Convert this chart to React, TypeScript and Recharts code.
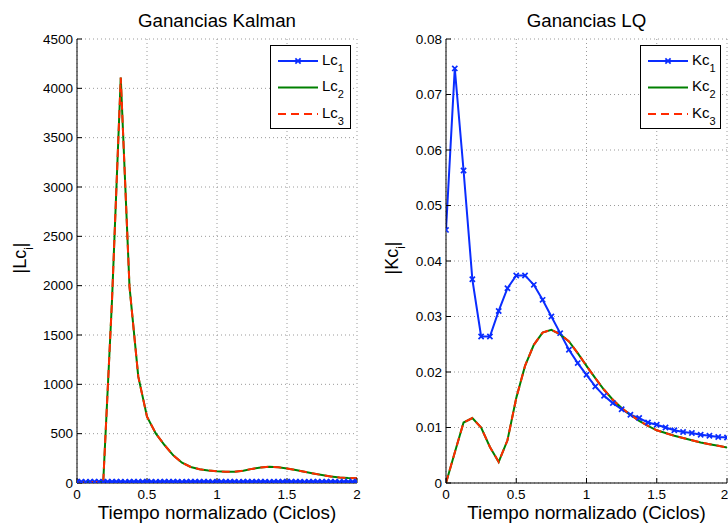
import { LineChart, Line, XAxis, YAxis, CartesianGrid, Legend, Label } from "recharts";

// shared x ticks (normalized time, cycles)
const timeTicks = [0, 0.5, 1, 1.5, 2];
const lcTicks = [0, 500, 1000, 1500, 2000, 2500, 3000, 3500, 4000, 4500];
const kcTicks = [0, 0.01, 0.02, 0.03, 0.04, 0.05, 0.06, 0.07, 0.08];

// Kalman gains, Lc1 sampled every 1/32 cycle, Lc2/Lc3 every 1/16
const lc1 = [
  12, 12, 11, 12, 12, 12, 11, 12, 12, 12, 12, 11, 12, 12, 12, 12,
  12, 12, 11, 12, 12, 12, 12, 12, 11, 12, 12, 12, 12, 12, 12, 11,
  12, 12, 12, 12, 12, 11, 12, 12, 12, 12, 12, 12, 11, 12, 12, 12,
  12, 12, 12, 12, 11, 12, 12, 12, 12, 12, 12, 12, 11, 12, 12, 12, 12,
];
const lc2 = [
  3, 6, 10, 15, 1850, 4110, 1990, 1080, 672, 503, 385, 280, 206, 162, 140, 126,
  118, 113, 114, 125, 143, 158, 165, 160, 148, 132, 113, 96, 81, 67, 56, 50, 48,
];
// Lc3 lies on top of Lc2 in the picture
const lc3 = lc2;

// LQ gains, every 1/16 cycle
const kc1 = [
  0.0456, 0.0747, 0.0563, 0.0367, 0.0264, 0.0264, 0.031, 0.0351, 0.0374, 0.0374, 0.0357,
  0.033, 0.03, 0.027, 0.024, 0.0216, 0.0195, 0.0174, 0.0157, 0.0144, 0.0133, 0.0123,
  0.0117, 0.0109, 0.0105, 0.01, 0.0095, 0.0092, 0.009, 0.0087, 0.0085, 0.0083, 0.0082,
];
const kc2 = [
  0, 0.0055, 0.0109, 0.0117, 0.01, 0.0065, 0.0038, 0.0077, 0.0153, 0.0211, 0.0249,
  0.0271, 0.0276, 0.0268, 0.0255, 0.0234, 0.0211, 0.0189, 0.0168, 0.015, 0.0135, 0.0123,
  0.0112, 0.0103, 0.0095, 0.009, 0.0085, 0.0081, 0.0077, 0.0073, 0.007, 0.0067, 0.0064,
];
const kc3 = kc2;

const BLUE = "#0a2dff";
const GREEN = "#008000";
const RED = "#ff2a00";
const FONT = "'Liberation Sans', Arial, Helvetica, sans-serif";

const kalmanRows = lc2.map((v, i) => ({ t: i / 16, s2: v, s3: lc3[i] }));
const kalmanDense = lc1.map((v, i) => ({ t: i / 32, s1: v }));
const lqRows = kc1.map((v, i) => ({ t: i / 16, s1: v, s2: kc2[i], s3: kc3[i] }));

type Entry = { name: string; sub: string; color: string; dash?: string; marker?: boolean };

function xMark(color: string) {
  return (props: any) => {
    const { cx, cy, index } = props;
    if (cx == null || cy == null) return <g key={`m${index}`} />;
    const s = 2.6;
    return (
      <path
        key={`m${index}`}
        d={`M${cx - s},${cy - s}L${cx + s},${cy + s}M${cx - s},${cy + s}L${cx + s},${cy - s}`}
        stroke={color}
        strokeWidth={1.7}
        fill="none"
      />
    );
  };
}

function LegendBox({ items }: { items: Entry[] }) {
  return (
    <div
      style={{
        width: 81,
        height: 84,
        border: "1px solid #000",
        background: "#fff",
        boxSizing: "border-box",
      }}
    >
      <svg width={79} height={82} style={{ display: "block" }}>
        {items.map((s, i) => {
          const y = 15 + i * 26.5;
          return (
            <g key={s.name + s.sub}>
              <line x1={7} x2={47} y1={y} y2={y} stroke={s.color} strokeWidth={2} strokeDasharray={s.dash} />
              {s.marker && xMark(s.color)({ cx: 27, cy: y, index: i })}
              <text x={51} y={y + 3.5} fontSize={15} fill="#000">
                {s.name}
                <tspan fontSize={11} dy={7}>
                  {s.sub}
                </tspan>
              </text>
            </g>
          );
        })}
      </svg>
    </div>
  );
}

type PanelProps = {
  title: string;
  ylab: string;
  ylabX: number;
  yTicks: number[];
  yFmt: (v: number) => string;
  axisW: number;
  rightM: number;
  legend: Entry[];
  children: any;
  data: any[];
};

function Panel({ title, ylab, ylabX, yTicks, yFmt, axisW, rightM, legend, children, data }: PanelProps) {
  const plotRight = 364 - rightM;
  const midX = (axisW + plotRight) / 2;
  return (
    <LineChart width={364} height={524} data={data} margin={{ top: 39, right: rightM, bottom: 0, left: 0 }}>
      <CartesianGrid stroke="#9a9a9a" strokeDasharray="1 3" />
      <XAxis
        type="number"
        dataKey="t"
        domain={[0, 2]}
        ticks={timeTicks}
        allowDataOverflow
        height={41}
        stroke="#000"
        tickSize={-5}
        tickMargin={11}
        tick={{ fontSize: 13.5, fill: "#000" }}
        tickFormatter={(v: number) => String(v)}
      >
        <Label
          content={() => (
            <text x={midX} y={519} textAnchor="middle" fontSize={18.8} fill="#000">
              Tiempo normalizado (Ciclos)
            </text>
          )}
        />
      </XAxis>
      <XAxis
        xAxisId="top"
        orientation="top"
        type="number"
        dataKey="t"
        domain={[0, 2]}
        ticks={timeTicks}
        allowDataOverflow
        height={0}
        stroke="#000"
        tickSize={-5}
        tick={false}
      />
      <YAxis
        type="number"
        domain={[yTicks[0], yTicks[yTicks.length - 1]]}
        ticks={yTicks}
        allowDataOverflow
        width={axisW}
        stroke="#000"
        tickSize={-5}
        tickMargin={9}
        tick={{ fontSize: 13.5, fill: "#000" }}
        tickFormatter={yFmt}
      >
        <Label
          content={() => {
            const y = 258;
            return (
              <g>
                <text x={midX} y={27} textAnchor="middle" fontSize={18.7} fill="#000">
                  {title}
                </text>
                <text
                  x={ylabX}
                  y={y}
                  textAnchor="middle"
                  fontSize={18}
                  fill="#000"
                  transform={`rotate(-90, ${ylabX}, ${y})`}
                >
                  |{ylab}
                  <tspan fontSize={12} dy={7}>
                    i
                  </tspan>
                  <tspan dy={-7}>|</tspan>
                </text>
              </g>
            );
          }}
        />
      </YAxis>
      <YAxis
        yAxisId="r"
        orientation="right"
        type="number"
        domain={[yTicks[0], yTicks[yTicks.length - 1]]}
        ticks={yTicks}
        allowDataOverflow
        width={0}
        stroke="#000"
        tickSize={-5}
        tick={false}
      />
      {children}
      <Legend
        layout="vertical"
        align="center"
        verticalAlign="middle"
        wrapperStyle={{ left: plotRight - 87, top: 45, width: 81, height: 84 }}
        content={() => <LegendBox items={legend} />}
      />
    </LineChart>
  );
}

export default function App() {
  return (
    <div
      style={{
        position: "absolute",
        left: 0,
        top: 0,
        width: 728,
        height: 524,
        background: "#fff",
        fontFamily: FONT,
      }}
    >
      <div style={{ position: "absolute", left: 0, top: 0 }}>
        <Panel
          title="Ganancias Kalman"
          ylab="Lc"
          ylabX={26}
          yTicks={lcTicks}
          yFmt={(v) => String(v)}
          axisW={77}
          rightM={7}
          data={kalmanRows}
          legend={[
            { name: "Lc", sub: "1", color: BLUE, marker: true },
            { name: "Lc", sub: "2", color: GREEN },
            { name: "Lc", sub: "3", color: RED, dash: "8 5" },
          ]}
        >
          <Line
            data={kalmanDense}
            dataKey="s1"
            stroke={BLUE}
            strokeWidth={2}
            dot={xMark(BLUE)}
            isAnimationActive={false}
          />
          <Line dataKey="s2" stroke={GREEN} strokeWidth={2} dot={false} isAnimationActive={false} />
          <Line dataKey="s3" stroke={RED} strokeWidth={2} strokeDasharray="8 5" dot={false} isAnimationActive={false} />
        </Panel>
      </div>
      <div style={{ position: "absolute", left: 364, top: 0 }}>
        <Panel
          title="Ganancias LQ"
          ylab="Kc"
          ylabX={34}
          yTicks={kcTicks}
          yFmt={(v) => (v === 0 ? "0" : v.toFixed(2))}
          axisW={82}
          rightM={1}
          data={lqRows}
          legend={[
            { name: "Kc", sub: "1", color: BLUE, marker: true },
            { name: "Kc", sub: "2", color: GREEN },
            { name: "Kc", sub: "3", color: RED, dash: "8 5" },
          ]}
        >
          <Line dataKey="s1" stroke={BLUE} strokeWidth={2} dot={xMark(BLUE)} isAnimationActive={false} />
          <Line dataKey="s2" stroke={GREEN} strokeWidth={2} dot={false} isAnimationActive={false} />
          <Line dataKey="s3" stroke={RED} strokeWidth={2} strokeDasharray="8 5" dot={false} isAnimationActive={false} />
        </Panel>
      </div>
    </div>
  );
}
